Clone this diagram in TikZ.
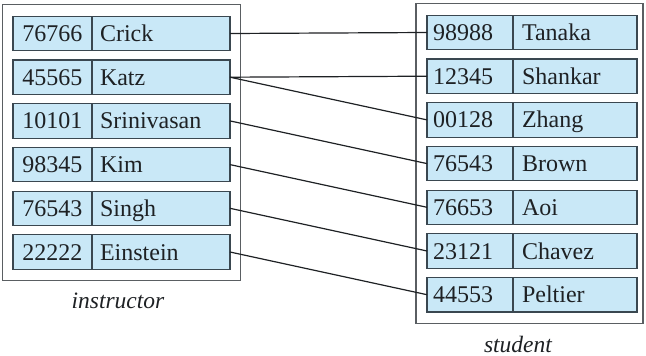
\documentclass[tikz,border=0pt]{standalone}
\usepackage{fontspec}
\setmainfont{Liberation Serif}
\usepackage{xcolor}
\usetikzlibrary{positioning,fit,calc}
\definecolor{cellblue}{HTML}{C9E8F7}
\definecolor{celledge}{HTML}{3A4750}
\definecolor{boxgray}{HTML}{5A5E62}
\definecolor{inkgray}{HTML}{1E2124}
\tikzset{
  idcell/.style={draw=celledge, fill=cellblue, line width=1.1pt, outer sep=0pt, inner ysep=0pt,
    minimum height=34.5pt, text height=16pt, text depth=0pt, text=inkgray,
    font=\fontsize{24pt}{28pt}\selectfont},
  idleft/.style={idcell, minimum width=79pt},
  idright/.style={idcell, inner xsep=6pt, text width=74pt, align=left},
  namecell/.style={idcell, inner xsep=8pt, align=left},
  nameleft/.style={namecell, text width=122pt},
  nameright/.style={namecell, inner xsep=9pt, text width=106pt},
  tablebox/.style={draw=boxgray, line width=1.3pt, inner xsep=10.5pt, inner ysep=11.5pt},
  caption/.style={text=inkgray, anchor=base, inner sep=0pt, font=\fontsize{23.5pt}{27pt}\selectfont\itshape},
  link/.style={inkgray, line width=1.2pt}
}

\begin{document}
\begin{tikzpicture}[node distance=9.2pt]
  \useasboundingbox (0,0) rectangle (646pt,-356pt);
  % instructor
  \node[idleft] (crickid) at (52.5pt,-33.5pt) {76766};
  \node[nameleft, right=0pt of crickid] (crick) {Crick};
  \node[idleft, below=of crickid] (katzid) {45565};
  \node[nameleft, right=0pt of katzid] (katz) {Katz};
  \node[idleft, below=of katzid] (srinid) {10101};
  \node[nameleft, right=0pt of srinid] (srin) {Srinivasan};
  \node[idleft, below=of srinid] (kimid) {98345};
  \node[nameleft, right=0pt of kimid] (kim) {Kim};
  \node[idleft, below=of kimid] (singhid) {76543};
  \node[nameleft, right=0pt of singhid] (singh) {Singh};
  \node[idleft, below=of singhid] (einsteinid) {22222};
  \node[nameleft, right=0pt of einsteinid] (einstein) {Einstein};
  \node[tablebox, fit=(crickid)(einstein)] (instrbox) {};
  \node[caption] (instrlabel) at (118pt,-308pt) {instructor};
  % student
  \node[idright] (tanakaid) at (470pt,-32.5pt) {98988};
  \node[nameright, right=0pt of tanakaid] (tanaka) {Tanaka};
  \node[idright, below=of tanakaid] (shankarid) {12345};
  \node[nameright, right=0pt of shankarid] (shankar) {Shankar};
  \node[idright, below=of shankarid] (zhangid) {00128};
  \node[nameright, right=0pt of zhangid] (zhang) {Zhang};
  \node[idright, below=of zhangid] (brownid) {76543};
  \node[nameright, right=0pt of brownid] (brown) {Brown};
  \node[idright, below=of brownid] (aoiid) {76653};
  \node[nameright, right=0pt of aoiid] (aoi) {Aoi};
  \node[idright, below=of aoiid] (chavezid) {23121};
  \node[nameright, right=0pt of chavezid] (chavez) {Chavez};
  \node[idright, below=of chavezid] (peltierid) {44553};
  \node[nameright, right=0pt of peltierid] (peltier) {Peltier};
  \node[tablebox, inner xsep=8.5pt, xshift=-2.5pt, fit=(tanakaid)(peltier)] (studbox) {};
  \node[caption] (studlabel) at (518pt,-352pt) {student};
  % advisor links
  \draw[link] (crick.east) -- (tanakaid.west);
  \draw[link] (katz.east) -- (shankarid.west);
  \draw[link] (katz.east) -- (zhangid.west);
  \draw[link] (srin.east) -- (brownid.west);
  \draw[link] (kim.east) -- (aoiid.west);
  \draw[link] (singh.east) -- (chavezid.west);
  \draw[link] (einstein.east) -- (peltierid.west);
\end{tikzpicture}
\end{document}
